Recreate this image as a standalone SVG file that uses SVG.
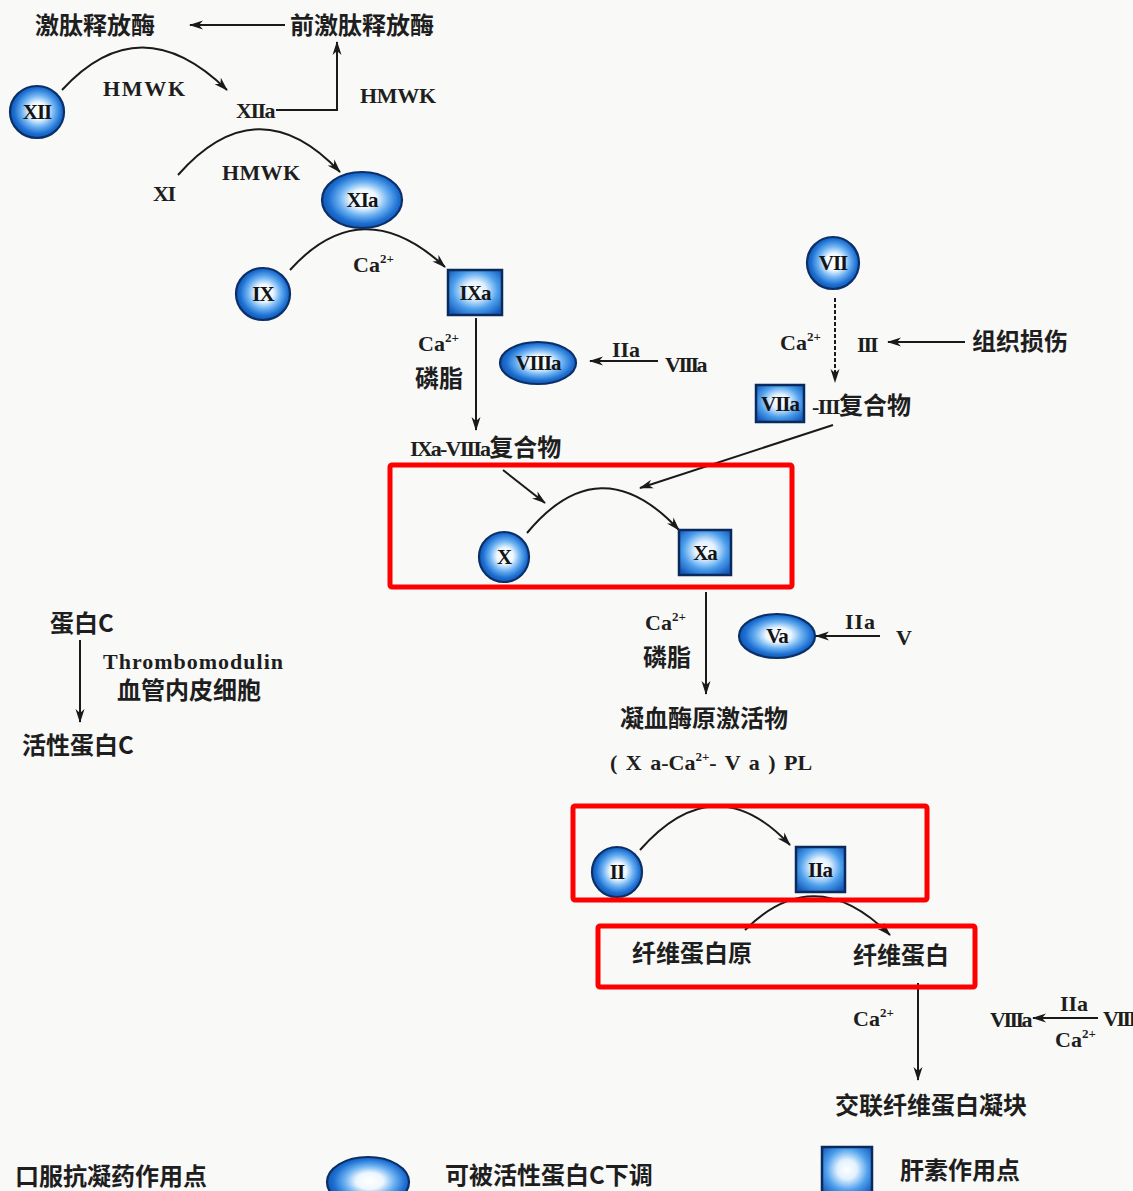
<svg xmlns="http://www.w3.org/2000/svg" width="1133" height="1191" viewBox="0 0 1133 1191">
<defs>
<radialGradient id="gc" cx="52%" cy="48%" r="55%">
<stop offset="0" stop-color="#ffffff"/>
<stop offset="0.3" stop-color="#eef7ff"/>
<stop offset="0.55" stop-color="#6db2f2"/>
<stop offset="0.8" stop-color="#1c6fd2"/>
<stop offset="1" stop-color="#0f4fa6"/>
</radialGradient>
<radialGradient id="gs" cx="50%" cy="45%" r="65%">
<stop offset="0" stop-color="#ffffff"/>
<stop offset="0.3" stop-color="#e2f1ff"/>
<stop offset="0.65" stop-color="#4b9eec"/>
<stop offset="1" stop-color="#1559ba"/>
</radialGradient>
<marker id="ah" viewBox="0 0 14 10" refX="13" refY="5" markerWidth="14" markerHeight="10" markerUnits="userSpaceOnUse" orient="auto">
<path d="M0,0.5 L14,5 L0,9.5 L4,5 Z" fill="#1a1a1a"/>
</marker>
<style>
.bg{fill:#f9f9f8}
.cn{font-family:"Noto Sans CJK SC","Liberation Serif",sans-serif;font-weight:bold;font-size:24px;fill:#1e1e1e}
.lt{font-family:"Liberation Serif","Noto Sans CJK SC",serif;font-weight:bold;font-size:22px;fill:#1e1e1e}
.nd{font-family:"Liberation Serif",serif;font-weight:bold;font-size:21px;fill:#141414;text-anchor:middle;letter-spacing:-1px}
.sup{font-size:13px}
.circ{fill:url(#gc);stroke:#0b2f66;stroke-width:2.2}
.sq{fill:url(#gs);stroke:#0b2a5c;stroke-width:2.5}
.ln{fill:none;stroke:#1a1a1a;stroke-width:2;marker-end:url(#ah)}
.dash{fill:none;stroke:#1a1a1a;stroke-width:2;stroke-dasharray:4 2;marker-end:url(#ah)}
.red{fill:none;stroke:#ff0000;stroke-width:5}
</style>
</defs>
<rect class="bg" x="0" y="0" width="1133" height="1191"/>

<g id="connectors">
<path class="ln" d="M62,90 Q140,5 227,90"/>
<path class="ln" d="M276,110 H337 V42"/>
<path class="ln" d="M285,25 H190"/>
<path class="ln" d="M178,175 Q258,85 340,172"/>
<path class="ln" d="M290,270 Q362,190 445,267"/>
<path class="ln" d="M476,318 V430"/>
<path class="ln" d="M658,361 H590"/>
<path class="dash" d="M835,298 V382"/>
<path class="ln" d="M965,342 H888"/>
<path class="ln" d="M833,425 L640,488"/>
<path class="ln" d="M503,470 L545,503"/>
<path class="ln" d="M527,533 Q600,445 679,530"/>
<path class="ln" d="M706,592 V694"/>
<path class="ln" d="M880,636 H816"/>
<path class="ln" d="M640,850 Q715,765 790,845"/>
<path class="ln" d="M745,930 Q815,860 890,935"/>
<path class="ln" d="M918,983 V1080"/>
<path class="ln" d="M1098,1018 H1033"/>
<path class="ln" d="M80,640 V722"/>
</g>

<g id="n-kallikrein"><text class="cn" x="35" y="34" font-size="25">激肽释放酶</text></g>
<g id="n-prekallikrein"><text class="cn" x="290" y="34" font-size="25">前激肽释放酶</text></g>
<g id="l-hmwk1"><text class="lt" x="103" y="96" textLength="82">HMWK</text></g>
<g id="l-hmwk2"><text class="lt" x="360" y="103" textLength="76">HMWK</text></g>
<g id="l-hmwk3"><text class="lt" x="222" y="180" textLength="78">HMWK</text></g>

<g id="n-XII"><ellipse class="circ" cx="37" cy="112" rx="27" ry="26"/><text class="nd" x="37" y="119">XII</text></g>
<g id="n-XIIa"><text class="lt" x="236" y="118" letter-spacing="-1.5">XIIa</text></g>
<g id="n-XI"><text class="lt" x="153" y="201" letter-spacing="-1.5">XI</text></g>
<g id="n-XIa"><ellipse class="circ" cx="362" cy="200" rx="40" ry="28"/><text class="nd" x="362" y="207">XIa</text></g>
<g id="n-IX"><ellipse class="circ" cx="263" cy="294" rx="27" ry="26"/><text class="nd" x="263" y="301">IX</text></g>
<g id="n-IXa"><rect class="sq" x="448" y="270" width="54" height="45"/><text class="nd" x="475" y="300">IXa</text></g>
<g id="l-ca1"><text class="lt" x="353" y="272">Ca<tspan class="sup" dy="-9">2+</tspan></text></g>

<g id="l-ca2"><text class="lt" x="418" y="351">Ca<tspan class="sup" dy="-9">2+</tspan></text></g>
<g id="l-pl1"><text class="cn" x="415" y="387">磷脂</text></g>
<g id="n-VIIIa"><ellipse class="circ" cx="538" cy="363" rx="38" ry="21"/><text class="nd" x="538" y="370">VIIIa</text></g>
<g id="l-IIa1"><text class="lt" x="612" y="357" textLength="28">IIa</text></g>
<g id="n-VIII1"><text class="lt" x="665" y="372" font-size="21" letter-spacing="-2.5">VIIIa</text></g>
<g id="n-IXaVIIIa"><text class="cn" x="410" y="456"><tspan class="lt" font-size="21" letter-spacing="-1.8">IXa-VIIIa</tspan>复合物</text></g>

<g id="n-VII"><ellipse class="circ" cx="833" cy="263" rx="26" ry="26"/><text class="nd" x="833" y="270">VII</text></g>
<g id="l-ca3"><text class="lt" x="780" y="350">Ca<tspan class="sup" dy="-9">2+</tspan></text></g>
<g id="n-III"><text class="lt" x="857" y="352" letter-spacing="-2">III</text></g>
<g id="n-injury"><text class="cn" x="972" y="350">组织损伤</text></g>
<g id="n-VIIa"><rect class="sq" x="756" y="385" width="48" height="37"/><text class="nd" x="780" y="411">VIIa</text></g>
<g id="l-VIIacomplex"><text class="cn" x="812" y="414"><tspan class="lt" letter-spacing="-1.5">-III</tspan>复合物</text></g>

<g id="n-X"><ellipse class="circ" cx="504" cy="557" rx="25" ry="25"/><text class="nd" x="504" y="564">X</text></g>
<g id="n-Xa"><rect class="sq" x="679" y="530" width="52" height="45"/><text class="nd" x="705" y="560" letter-spacing="1">Xa</text></g>

<g id="l-ca4"><text class="lt" x="645" y="630">Ca<tspan class="sup" dy="-9">2+</tspan></text></g>
<g id="l-pl2"><text class="cn" x="643" y="666">磷脂</text></g>
<g id="n-Va"><ellipse class="circ" cx="777" cy="636" rx="38" ry="22"/><text class="nd" x="777" y="643" letter-spacing="2">Va</text></g>
<g id="l-IIa2"><text class="lt" x="845" y="629" textLength="30">IIa</text></g>
<g id="n-V"><text class="lt" x="896" y="645">V</text></g>
<g id="n-activator"><text class="cn" x="620" y="727" font-size="25">凝血酶原激活物</text>
<text class="lt" x="610" y="770" word-spacing="3">( X a-Ca<tspan class="sup" dy="-9">2+</tspan><tspan dy="9">- V a ) PL</tspan></text></g>

<g id="n-II"><ellipse class="circ" cx="617" cy="872" rx="25" ry="25"/><text class="nd" x="617" y="879">II</text></g>
<g id="n-IIa"><rect class="sq" x="796" y="847" width="49" height="45"/><text class="nd" x="820" y="877" letter-spacing="1">IIa</text></g>
<g id="n-fibrinogen"><text class="cn" x="632" y="962" font-size="24.5">纤维蛋白原</text></g>
<g id="n-fibrin"><text class="cn" x="853" y="964">纤维蛋白</text></g>
<g id="l-ca5"><text class="lt" x="853" y="1026">Ca<tspan class="sup" dy="-9">2+</tspan></text></g>
<g id="n-VIIIa2"><text class="lt" x="990" y="1027" font-size="21" letter-spacing="-2.5">VIIIa</text></g>
<g id="l-IIa3"><text class="lt" x="1060" y="1011" textLength="28">IIa</text></g>
<g id="l-ca6"><text class="lt" x="1055" y="1047">Ca<tspan class="sup" dy="-9">2+</tspan></text></g>
<g id="n-VIII2"><text class="lt" x="1103" y="1026" font-size="20" letter-spacing="-2.5">VIII</text></g>
<g id="n-clot"><text class="cn" x="835" y="1114">交联纤维蛋白凝块</text></g>

<g id="n-proteinC"><text class="cn" x="50" y="632">蛋白C</text></g>
<g id="l-thrombomodulin"><text class="lt" x="103" y="669" textLength="180">Thrombomodulin</text>
<text class="cn" x="117" y="699" font-size="25">血管内皮细胞</text></g>
<g id="n-APC"><text class="cn" x="22" y="754">活性蛋白C</text></g>

<g id="redboxes">
<rect class="red" x="390" y="465" width="402" height="122" rx="2"/>
<rect class="red" x="573" y="806" width="354" height="94" rx="2"/>
<rect class="red" x="598" y="926" width="377" height="61" rx="2"/>
</g>

<g id="legend">
<text class="cn" x="15" y="1185" font-size="26">口服抗凝药作用点</text>
<ellipse class="circ" cx="368" cy="1182" rx="41" ry="25"/>
<text class="cn" x="445" y="1184" font-size="24.5">可被活性蛋白C下调</text>
<rect class="sq" x="822" y="1147" width="50" height="50"/>
<text class="cn" x="900" y="1179">肝素作用点</text>
</g>
</svg>
